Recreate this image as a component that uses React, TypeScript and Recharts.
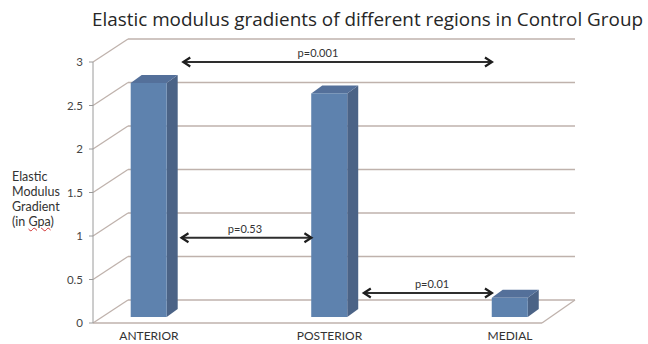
import React from 'react';
import { BarChart, Bar, XAxis, YAxis, CartesianGrid, ReferenceLine } from 'recharts';

const categories = ['ANTERIOR', 'POSTERIOR', 'MEDIAL'];
const gradientValues = [2.69, 2.57, 0.22];
const yTicks = [0, 0.5, 1, 1.5, 2, 2.5, 3];
const pLabels = ['p=0.001', 'p=0.53', 'p=0.01'];
const pFrom = [0.19, 0.18, 1.19];
const pTo = [1.9, 0.9, 1.9];
const pLevel = [3, 0.98, 0.345];
const pLabelAt = [0.936, 0.532, 1.568];

const rows = categories.map((name, i) => ({ x: i, name, value: gradientValues[i] }));

const FONT = 'Lato, "Open Sans", sans-serif';
const TITLE_FONT = '"Open Sans", Lato, sans-serif';
const GRID = '#bfb2ac';

const Wall = (p: any) => {
  const { x1, x2, y1, index } = p;
  const dxL = 35;
  const dy = 23;
  const frontRight = x2 - 33;
  return (
    <g key={`w${index}`}>
      <line x1={x1} y1={y1} x2={x1 + dxL} y2={y1 - dy} stroke={GRID} strokeWidth={1.3} />
      <line x1={x1 + dxL} y1={y1 - dy} x2={x2} y2={y1 - dy} stroke={GRID} strokeWidth={1.6} />
      {index === 0 ? (
        <g>
          <line x1={x1} y1={y1} x2={frontRight} y2={y1} stroke={GRID} strokeWidth={1.3} />
          <line x1={frontRight} y1={y1} x2={x2} y2={y1 - dy} stroke={GRID} strokeWidth={1.3} />
        </g>
      ) : null}
    </g>
  );
};

const Box3D = (p: any) => {
  const { x, y, width: w, height: h } = p;
  if (h == null || w == null) return null;
  const lift = 6;
  const dx = 11;
  const dy = 8;
  const top = y - lift;
  const bot = y + h - lift;
  return (
    <g>
      <polygon
        points={`${x + w},${top} ${x + w + dx},${top - dy} ${x + w + dx},${bot - dy} ${x + w},${bot}`}
        fill="#4b6386"
      />
      <polygon
        points={`${x},${top} ${x + dx},${top - dy} ${x + w + dx},${top - dy} ${x + w},${top}`}
        fill="#54709a"
      />
      <rect x={x} y={top} width={w} height={bot - top} fill="#5e82ae" />
    </g>
  );
};

const makeArrow = (i: number) => (p: any) => {
  const { x1, y1, x2, y2 } = p;
  const a = 7;
  const b = 4.5;
  const lx = x1 + ((pLabelAt[i] - pFrom[i]) / (pTo[i] - pFrom[i])) * (x2 - x1);
  return (
    <g>
      <line x1={x1} y1={y1} x2={x2} y2={y2} stroke="#2e2e2e" strokeWidth={2} />
      <path
        d={`M${x1 + a},${y1 - b} L${x1},${y1} L${x1 + a},${y1 + b}`}
        fill="none"
        stroke="#1e1e1e"
        strokeWidth={2.2}
      />
      <path
        d={`M${x2 - a},${y2 - b} L${x2},${y2} L${x2 - a},${y2 + b}`}
        fill="none"
        stroke="#1e1e1e"
        strokeWidth={2.2}
      />
      <text x={lx} y={y1 - 5} textAnchor="middle" fontSize={11} fill="#333" fontFamily={FONT}>
        {pLabels[i]}
      </text>
    </g>
  );
};

export default function App() {
  return (
    <div style={{ position: 'absolute', left: 0, top: 0, width: 648, height: 344, background: '#fff', fontFamily: FONT }}>
      <svg width={648} height={40} style={{ position: 'absolute', left: 0, top: 0 }}>
        <text x={92} y={26} fontSize={18} fill="#262626" fontFamily={TITLE_FONT} textLength={551} lengthAdjust="spacingAndGlyphs">
          Elastic modulus gradients of different regions in Control Group
        </text>
      </svg>
      <div
        style={{
          position: 'absolute',
          left: 12,
          top: 169,
          fontSize: 12.5,
          lineHeight: '15px',
          color: '#333',
          fontFamily: FONT,
        }}
      >
        <div>Elastic</div>
        <div>Modulus</div>
        <div>Gradient</div>
        <div>
          (in <span style={{ textDecoration: 'underline wavy #d03030', textDecorationThickness: '1px' }}>Gpa</span>)
        </div>
      </div>
      <div style={{ position: 'absolute', left: 0, top: 0 }}>
        <BarChart width={648} height={344} data={rows} margin={{ top: 62, right: 73, bottom: 0, left: 0 }}>
          <CartesianGrid vertical={false} horizontal={Wall as any} />
          <XAxis
            dataKey="x"
            type="number"
            domain={[-0.31, 2.36]}
            ticks={[0, 1, 2]}
            interval={0}
            tickFormatter={(v: number) => categories[v]}
            height={21}
            axisLine={false}
            tickLine={false}
            tickSize={0}
            tickMargin={8}
            tick={{ fontSize: 12, fill: '#333', fontFamily: FONT }}
          />
          <YAxis
            width={93}
            domain={[0, 3]}
            ticks={yTicks}
            interval={0}
            axisLine={{ stroke: '#9a9a9a' }}
            tickLine={{ stroke: '#9a9a9a' }}
            tickSize={4}
            tickMargin={6}
            tick={{ fontSize: 11.5, fill: '#444', fontFamily: FONT }}
          />
          <Bar dataKey="value" barSize={36} shape={Box3D} isAnimationActive={false} />
          {pLabels.map((lab, i) => (
            <ReferenceLine
              key={lab}
              segment={[
                { x: pFrom[i], y: pLevel[i] },
                { x: pTo[i], y: pLevel[i] },
              ]}
              shape={makeArrow(i)}
              ifOverflow="visible"
            />
          ))}
        </BarChart>
      </div>
    </div>
  );
}
